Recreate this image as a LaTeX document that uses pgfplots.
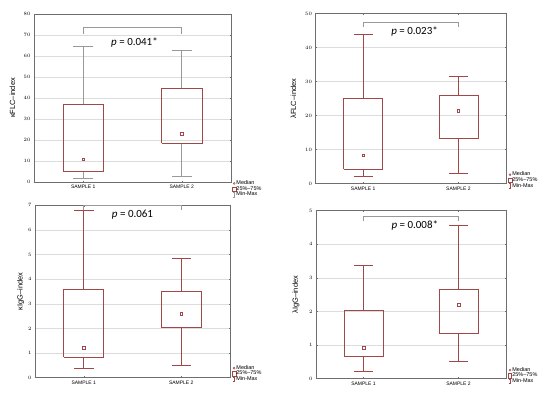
\documentclass[border=0pt]{standalone}
\usepackage{fontspec}
\setmainfont{Liberation Sans}
\newfontfamily\calibri{Carlito}
\usepackage{pgfplots}
\pgfplotsset{compat=1.18}
\definecolor{boxred}{HTML}{A04848}
\definecolor{whgray}{HTML}{999999}
\definecolor{framegray}{HTML}{6E6E6E}
\definecolor{gridgray}{HTML}{DCDCDC}

\tikzset{ptext/.style={font=\calibri\fontsize{11}{13}\selectfont}}

% boxes: x = position -/+ 0.205, caps: position -/+ 0.1
\pgfplotsset{
  panel/.style={
    scale only axis, anchor=south west,
    xmin=0.5, xmax=2.5, ymin=0,
    xtick={1,2}, xticklabels={SAMPLE 1,SAMPLE 2},
    scaled ticks=false,
    unbounded coords=jump,
    ymajorgrids, grid style={gridgray, line width=0.5pt},
    axis line style={framegray, line width=0.8pt},
    tick style={framegray, line width=0.5pt},
    tick align=inside, major tick length=1.5pt,
    ticklabel style={font=\fontsize{5}{6}\selectfont},
    every axis y label/.style={rotate=90, anchor=center,
      font=\fontsize{7.5}{9}\selectfont},
    clip=false,
    legend style={draw=none, fill=none, font=\fontsize{5.5}{5}\selectfont,
      inner sep=0pt, row sep=-0.6pt, column sep=0pt,
      nodes={inner sep=0.4pt}},
    legend cell align=left,
  },
  boxes/.style={forget plot, draw=boxred, color=boxred, line width=0.7pt, line join=miter},
  whisk/.style={forget plot, line width=0.7pt},
  medmark/.style={forget plot, only marks, mark=square, mark size=1.3pt,
    color=boxred, mark options={line width=0.6pt}},
  bracket/.style={forget plot, color=whgray, line width=0.7pt},
}

\newcommand{\legendentries}[1]{%
  \addlegendimage{legend image code/.code={\draw[color=boxred, line width=0.5pt] (1.9pt,0) circle (1pt);}}
  \addlegendentry{Median}
  \addlegendimage{legend image code/.code={\draw[color=boxred, line width=0.5pt] (0.2pt,-2.2pt) rectangle (3.6pt,2.2pt);}}
  \addlegendentry{25\%–75\%}
  \addlegendimage{legend image code/.code={\draw[color=#1, line width=0.5pt] (1.9pt,-2.2pt) -- (1.9pt,2.2pt) (0.6pt,-2.2pt) -- (3.2pt,-2.2pt) (0.6pt,2.2pt) -- (3.2pt,2.2pt);}}
  \addlegendentry{Min-Max}
}

\begin{document}
\begin{tikzpicture}[x=1bp, y=1bp]
\useasboundingbox (0,0) rectangle (550,396);

% kappa FLC: min, Q1, median, Q3, max = (1.8, 5.2, 10.8, 37, 64.4) and (2.7, 18.4, 23, 44.4, 62.5)
\begin{axis}[panel, at={(34bp,214bp)}, width=197bp, height=168bp,
  ymax=80, ytick={0,10,...,80},
  ylabel={κFLC–index},
  every axis y label/.append style={at={(axis description cs:-0.109,0.5)}},
  legend style={at={(axis description cs:1.005,-0.042)}, anchor=west}]
\addplot[whisk, draw=whgray, color=whgray] coordinates {
  (1,37) (1,64.4) (nan,nan) (0.9,64.4) (1.1,64.4) (nan,nan)
  (1,5.2) (1,1.8) (nan,nan) (0.9,1.8) (1.1,1.8) (nan,nan)
  (2,44.4) (2,62.5) (nan,nan) (1.9,62.5) (2.1,62.5) (nan,nan)
  (2,18.4) (2,2.7) (nan,nan) (1.9,2.7) (2.1,2.7)};
\addplot[boxes] coordinates {
  (0.795,5.2) (1.205,5.2) (1.205,37) (0.795,37) (0.795,5.2) (nan,nan)
  (1.795,18.4) (2.205,18.4) (2.205,44.4) (1.795,44.4) (1.795,18.4)};
\addplot[medmark] coordinates {(1,10.8) (2,23)};
\addplot[bracket] coordinates {(1,70.5) (1,73.5) (2,73.5) (2,70.5)};
\node[ptext] at (axis cs:1.52,66.2) {\textit{p} = 0.041*};
\legendentries{whgray}
\end{axis}

% lambda FLC: (2.1, 4.2, 8.3, 25.1, 43.9) and (3.1, 13.4, 21.4, 26, 31.7)
\begin{axis}[panel, at={(315.5bp,212.3bp)}, width=190.5bp, height=170bp,
  ymax=50, ytick={0,10,...,50},
  ylabel={λFLC–index},
  every axis y label/.append style={at={(axis description cs:-0.116,0.5)}},
  legend style={at={(axis description cs:1.01,0.02)}, anchor=west}]
\addplot[whisk, draw=boxred, color=boxred] coordinates {
  (1,25.1) (1,43.9) (nan,nan) (0.9,43.9) (1.1,43.9) (nan,nan)
  (1,4.2) (1,2.1) (nan,nan) (0.9,2.1) (1.1,2.1) (nan,nan)
  (2,26) (2,31.7) (nan,nan) (1.9,31.7) (2.1,31.7) (nan,nan)
  (2,13.4) (2,3.1) (nan,nan) (1.9,3.1) (2.1,3.1)};
\addplot[boxes] coordinates {
  (0.795,4.2) (1.205,4.2) (1.205,25.1) (0.795,25.1) (0.795,4.2) (nan,nan)
  (1.795,13.4) (2.205,13.4) (2.205,26) (1.795,26) (1.795,13.4)};
\addplot[medmark] coordinates {(1,8.3) (2,21.4)};
\addplot[bracket] coordinates {(1,46.1) (1,47.4) (2,47.4) (2,46.1)};
\node[ptext] at (axis cs:1.54,44.8) {\textit{p} = 0.023*};
\legendentries{boxred}
\end{axis}

% kappa IgG: (0.39, 0.83, 1.21, 3.58, 6.78) and (0.49, 2.03, 2.59, 3.51, 4.84)
\begin{axis}[panel, at={(35bp,18.3bp)}, width=195bp, height=172.4bp,
  ymax=7, ytick={0,1,...,7},
  ylabel={κIgG–index},
  every axis y label/.append style={at={(axis description cs:-0.074,0.5)}},
  legend style={at={(axis description cs:1.01,0.023)}, anchor=west}]
\addplot[whisk, draw=boxred, color=boxred] coordinates {
  (1,3.58) (1,6.78) (nan,nan) (0.9,6.78) (1.1,6.78) (nan,nan)
  (1,0.83) (1,0.39) (nan,nan) (0.9,0.39) (1.1,0.39) (nan,nan)
  (2,3.51) (2,4.84) (nan,nan) (1.9,4.84) (2.1,4.84) (nan,nan)
  (2,2.03) (2,0.49) (nan,nan) (1.9,0.49) (2.1,0.49)};
\addplot[boxes] coordinates {
  (0.795,0.83) (1.205,0.83) (1.205,3.58) (0.795,3.58) (0.795,0.83) (nan,nan)
  (1.795,2.03) (2.205,2.03) (2.205,3.51) (1.795,3.51) (1.795,2.03)};
\addplot[medmark] coordinates {(1,1.21) (2,2.59)};
\addplot[bracket] coordinates {(1,6.8) (1,7) (2,7) (2,6.8)};
\node[ptext] at (axis cs:1.5,6.61) {\textit{p} = 0.061};
\legendentries{boxred}
\end{axis}

% lambda IgG: (0.22, 0.68, 0.92, 2.02, 3.37) and (0.52, 1.35, 2.2, 2.67, 4.55)
\begin{axis}[panel, at={(316bp,17.3bp)}, width=190bp, height=168bp,
  ymax=5, ytick={0,1,...,5},
  ylabel={λIgG–index},
  every axis y label/.append style={at={(axis description cs:-0.105,0.5)}},
  legend style={at={(axis description cs:1.01,0.018)}, anchor=west}]
\addplot[whisk, draw=boxred, color=boxred] coordinates {
  (1,2.02) (1,3.37) (nan,nan) (0.9,3.37) (1.1,3.37) (nan,nan)
  (1,0.68) (1,0.22) (nan,nan) (0.9,0.22) (1.1,0.22) (nan,nan)
  (2,2.67) (2,4.55) (nan,nan) (1.9,4.55) (2.1,4.55) (nan,nan)
  (2,1.35) (2,0.52) (nan,nan) (1.9,0.52) (2.1,0.52)};
\addplot[boxes] coordinates {
  (0.795,0.68) (1.205,0.68) (1.205,2.02) (0.795,2.02) (0.795,0.68) (nan,nan)
  (1.795,1.35) (2.205,1.35) (2.205,2.67) (1.795,2.67) (1.795,1.35)};
\addplot[medmark] coordinates {(1,0.92) (2,2.2)};
\addplot[bracket] coordinates {(1,4.69) (1,4.84) (2,4.84) (2,4.69)};
\node[ptext] at (axis cs:1.54,4.57) {\textit{p} = 0.008*};
\legendentries{boxred}
\end{axis}
\end{tikzpicture}
\end{document}
